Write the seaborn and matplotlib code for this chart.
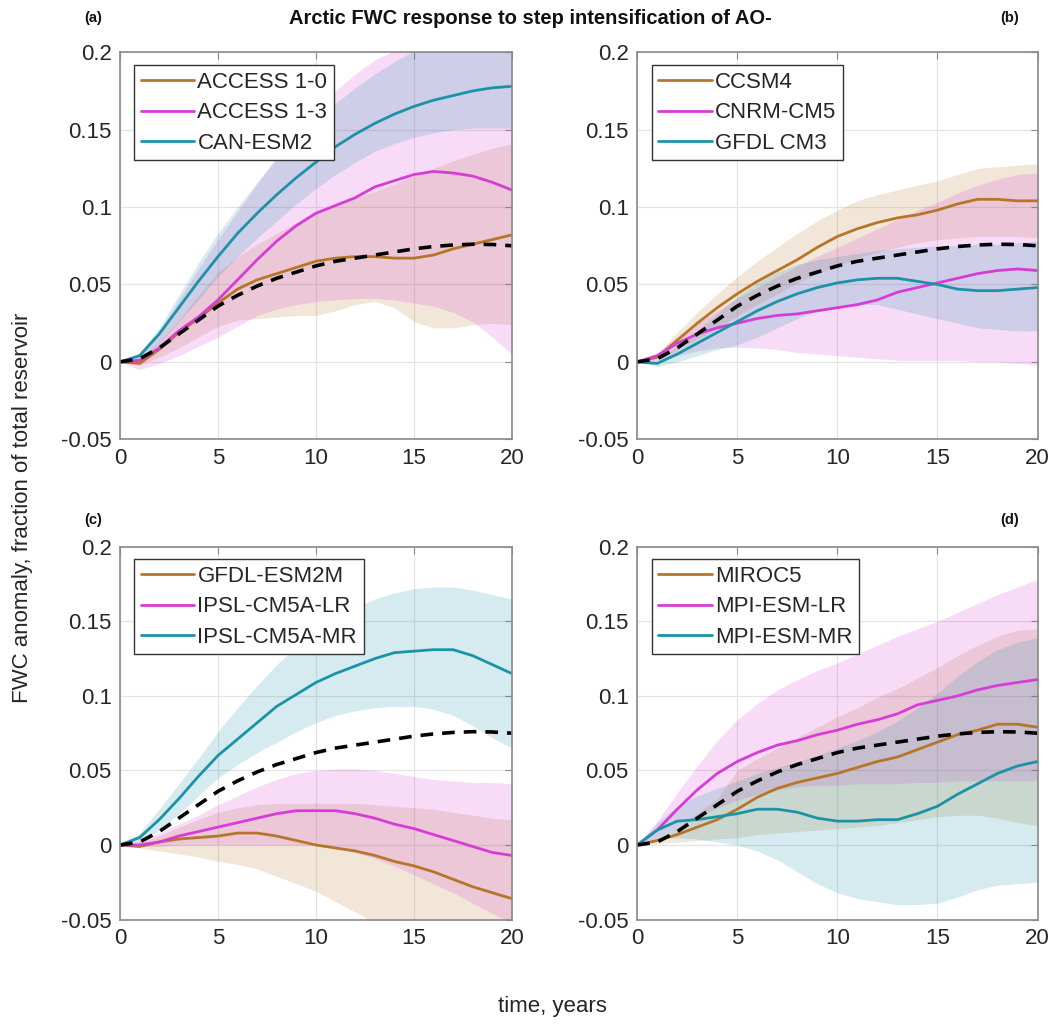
import numpy as np
import pandas as pd
import matplotlib
matplotlib.use("Agg")
import matplotlib.pyplot as plt
import seaborn as sns

sns.set_style("white")
plt.rcParams['font.family'] = ['Liberation Sans', 'DejaVu Sans']

years = list(range(21))

# multi-model mean (dashed black, same in every panel)
mean_all = [0, 0.002, 0.009, 0.018, 0.027, 0.036, 0.043, 0.049, 0.054, 0.058, 0.062,
            0.065, 0.067, 0.069, 0.071, 0.073, 0.0745, 0.0755, 0.076, 0.0758, 0.075]

# (a)
acc10 = [0, -0.001, 0.008, 0.019, 0.028, 0.038, 0.047, 0.053, 0.057, 0.061, 0.065,
         0.067, 0.068, 0.068, 0.067, 0.067, 0.069, 0.073, 0.076, 0.079, 0.082]
acc10_lo = [0, -0.002, 0.003, 0.009, 0.016, 0.023, 0.027, 0.028, 0.029, 0.030, 0.030,
            0.033, 0.037, 0.039, 0.035, 0.026, 0.022, 0.022, 0.024, 0.025, 0.024]
acc10_hi = [0, 0.002, 0.013, 0.027, 0.043, 0.058, 0.068, 0.076, 0.083, 0.090, 0.097,
            0.102, 0.106, 0.110, 0.115, 0.120, 0.125, 0.130, 0.134, 0.138, 0.141]
acc13 = [0, 0.001, 0.009, 0.020, 0.029, 0.040, 0.053, 0.066, 0.078, 0.088, 0.096,
         0.101, 0.106, 0.113, 0.117, 0.121, 0.123, 0.122, 0.120, 0.116, 0.111]
acc13_lo = [0, -0.005, -0.001, 0.004, 0.010, 0.016, 0.023, 0.030, 0.034, 0.037, 0.039,
            0.040, 0.041, 0.041, 0.040, 0.038, 0.036, 0.032, 0.026, 0.016, 0.005]
acc13_hi = [0, 0.005, 0.020, 0.040, 0.060, 0.079, 0.097, 0.115, 0.133, 0.149, 0.163,
            0.175, 0.186, 0.195, 0.201, 0.206, 0.210, 0.213, 0.215, 0.216, 0.216]
canesm = [0, 0.004, 0.018, 0.035, 0.052, 0.068, 0.083, 0.096, 0.108, 0.119, 0.129,
          0.139, 0.147, 0.154, 0.160, 0.165, 0.169, 0.172, 0.175, 0.177, 0.178]
canesm_lo = [0, 0.001, 0.012, 0.026, 0.040, 0.055, 0.068, 0.080, 0.091, 0.102, 0.112,
             0.121, 0.129, 0.136, 0.141, 0.145, 0.148, 0.150, 0.151, 0.151, 0.151]
canesm_hi = [0, 0.006, 0.022, 0.043, 0.064, 0.083, 0.100, 0.116, 0.131, 0.144, 0.156,
             0.167, 0.177, 0.186, 0.194, 0.201, 0.207, 0.211, 0.214, 0.216, 0.218]

# (b)
ccsm4 = [0, 0.003, 0.014, 0.025, 0.035, 0.044, 0.052, 0.059, 0.066, 0.074, 0.081,
         0.086, 0.090, 0.093, 0.095, 0.098, 0.102, 0.105, 0.105, 0.104, 0.104]
ccsm4_lo = [0, 0.001, 0.008, 0.015, 0.022, 0.030, 0.037, 0.044, 0.051, 0.057, 0.062,
            0.067, 0.071, 0.074, 0.077, 0.079, 0.080, 0.081, 0.081, 0.081, 0.080]
ccsm4_hi = [0, 0.005, 0.019, 0.032, 0.044, 0.055, 0.065, 0.074, 0.083, 0.091, 0.098,
            0.104, 0.108, 0.111, 0.114, 0.117, 0.121, 0.125, 0.126, 0.127, 0.128]
cnrm = [0, 0.004, 0.012, 0.018, 0.022, 0.025, 0.028, 0.030, 0.031, 0.033, 0.035,
        0.037, 0.040, 0.045, 0.048, 0.051, 0.054, 0.057, 0.059, 0.060, 0.059]
cnrm_lo = [0, 0.001, 0.004, 0.007, 0.009, 0.0095, 0.009, 0.008, 0.006, 0.005, 0.004,
           0.003, 0.002, 0.001, 0.001, 0.001, 0.001, 0.0, 0.0, -0.001, -0.002]
cnrm_hi = [0, 0.006, 0.016, 0.025, 0.033, 0.041, 0.048, 0.055, 0.062, 0.068, 0.074,
           0.080, 0.086, 0.092, 0.098, 0.103, 0.109, 0.114, 0.118, 0.121, 0.122]
gfdlcm3 = [0, -0.001, 0.005, 0.012, 0.019, 0.026, 0.033, 0.039, 0.044, 0.048, 0.051,
           0.053, 0.054, 0.054, 0.052, 0.050, 0.047, 0.046, 0.046, 0.047, 0.048]
gfdlcm3_lo = [0, -0.003, 0.0, 0.004, 0.008, 0.011, 0.016, 0.022, 0.028, 0.033, 0.036,
              0.037, 0.037, 0.034, 0.031, 0.028, 0.025, 0.022, 0.021, 0.020, 0.020]
gfdlcm3_hi = [0, 0.001, 0.010, 0.020, 0.031, 0.042, 0.051, 0.058, 0.063, 0.066, 0.068,
              0.070, 0.072, 0.073, 0.074, 0.075, 0.075, 0.076, 0.076, 0.077, 0.078]

# (c)
esm2m = [0, -0.001, 0.002, 0.004, 0.005, 0.006, 0.008, 0.008, 0.006, 0.003, 0.0,
         -0.002, -0.004, -0.007, -0.011, -0.014, -0.018, -0.023, -0.028, -0.032, -0.036]
esm2m_lo = [0, -0.002, -0.004, -0.006, -0.008, -0.011, -0.013, -0.016, -0.021, -0.026, -0.031,
            -0.038, -0.045, -0.052, -0.058, -0.064, -0.070, -0.075, -0.080, -0.085, -0.090]
esm2m_hi = [0, 0.002, 0.006, 0.012, 0.017, 0.022, 0.025, 0.027, 0.028, 0.028, 0.028,
            0.028, 0.028, 0.027, 0.026, 0.025, 0.024, 0.022, 0.020, 0.018, 0.017]
ipsl_lr = [0, 0.0, 0.002, 0.006, 0.009, 0.012, 0.015, 0.018, 0.021, 0.023, 0.023,
           0.023, 0.021, 0.018, 0.014, 0.011, 0.007, 0.003, -0.001, -0.005, -0.007]
ipsl_lr_lo = [0, -0.001, -0.001, 0.0, 0.0, 0.0, 0.0, 0.0, 0.0, 0.0, 0.0,
              -0.002, -0.005, -0.009, -0.014, -0.020, -0.026, -0.032, -0.039, -0.046, -0.052]
ipsl_lr_hi = [0, 0.003, 0.008, 0.014, 0.020, 0.027, 0.033, 0.039, 0.044, 0.048, 0.050,
              0.051, 0.051, 0.050, 0.048, 0.046, 0.044, 0.043, 0.042, 0.042, 0.041]
ipsl_mr = [0, 0.005, 0.017, 0.031, 0.046, 0.060, 0.071, 0.082, 0.093, 0.101, 0.109,
           0.115, 0.120, 0.125, 0.129, 0.130, 0.131, 0.131, 0.127, 0.121, 0.115]
ipsl_mr_lo = [0, 0.002, 0.010, 0.021, 0.033, 0.045, 0.054, 0.062, 0.069, 0.076, 0.082,
              0.087, 0.090, 0.092, 0.093, 0.093, 0.091, 0.087, 0.080, 0.072, 0.065]
ipsl_mr_hi = [0, 0.008, 0.024, 0.041, 0.058, 0.076, 0.092, 0.107, 0.121, 0.133, 0.143,
              0.152, 0.159, 0.165, 0.169, 0.172, 0.173, 0.173, 0.171, 0.168, 0.165]

# (d)
miroc5 = [0, 0.003, 0.007, 0.012, 0.017, 0.024, 0.032, 0.038, 0.042, 0.045, 0.048,
          0.052, 0.056, 0.059, 0.064, 0.069, 0.074, 0.077, 0.081, 0.081, 0.079]
miroc5_lo = [0, 0.001, 0.002, 0.003, 0.004, 0.005, 0.007, 0.008, 0.009, 0.010, 0.011,
             0.012, 0.013, 0.015, 0.017, 0.019, 0.020, 0.020, 0.018, 0.015, 0.013]
miroc5_hi = [0, 0.005, 0.012, 0.021, 0.031, 0.050, 0.058, 0.065, 0.072, 0.079, 0.086,
             0.092, 0.099, 0.105, 0.112, 0.119, 0.127, 0.134, 0.140, 0.144, 0.145]
mpi_lr = [0, 0.010, 0.024, 0.037, 0.048, 0.056, 0.062, 0.067, 0.070, 0.074, 0.077,
          0.081, 0.084, 0.088, 0.094, 0.097, 0.100, 0.104, 0.107, 0.109, 0.111]
mpi_lr_lo = [0, 0.005, 0.012, 0.019, 0.025, 0.030, 0.034, 0.037, 0.039, 0.040, 0.040,
             0.041, 0.041, 0.041, 0.042, 0.042, 0.043, 0.043, 0.043, 0.043, 0.043]
mpi_lr_hi = [0, 0.016, 0.035, 0.053, 0.070, 0.084, 0.095, 0.104, 0.111, 0.117, 0.122,
             0.128, 0.134, 0.140, 0.145, 0.150, 0.156, 0.162, 0.168, 0.173, 0.178]
mpi_mr = [0, 0.010, 0.016, 0.017, 0.019, 0.021, 0.024, 0.024, 0.022, 0.018, 0.016,
          0.016, 0.017, 0.017, 0.021, 0.026, 0.034, 0.041, 0.048, 0.053, 0.056]
mpi_mr_lo = [0, 0.004, 0.005, 0.004, 0.002, 0.0, -0.004, -0.010, -0.018, -0.026, -0.032,
             -0.036, -0.038, -0.040, -0.040, -0.039, -0.035, -0.030, -0.027, -0.026, -0.025]
mpi_mr_hi = [0, 0.015, 0.026, 0.033, 0.038, 0.043, 0.048, 0.052, 0.056, 0.060, 0.065,
             0.070, 0.076, 0.083, 0.092, 0.102, 0.113, 0.123, 0.131, 0.136, 0.139]

BROWN = '#b5762a'
MAGENTA = '#d63cd6'
TEAL = '#1b93a7'
colors = [BROWN, MAGENTA, TEAL]

panels = [
    ('(a)', [('ACCESS 1-0', acc10, acc10_lo, acc10_hi),
             ('ACCESS 1-3', acc13, acc13_lo, acc13_hi),
             ('CAN-ESM2', canesm, canesm_lo, canesm_hi)]),
    ('(b)', [('CCSM4', ccsm4, ccsm4_lo, ccsm4_hi),
             ('CNRM-CM5', cnrm, cnrm_lo, cnrm_hi),
             ('GFDL CM3', gfdlcm3, gfdlcm3_lo, gfdlcm3_hi)]),
    ('(c)', [('GFDL-ESM2M', esm2m, esm2m_lo, esm2m_hi),
             ('IPSL-CM5A-LR', ipsl_lr, ipsl_lr_lo, ipsl_lr_hi),
             ('IPSL-CM5A-MR', ipsl_mr, ipsl_mr_lo, ipsl_mr_hi)]),
    ('(d)', [('MIROC5', miroc5, miroc5_lo, miroc5_hi),
             ('MPI-ESM-LR', mpi_lr, mpi_lr_lo, mpi_lr_hi),
             ('MPI-ESM-MR', mpi_mr, mpi_mr_lo, mpi_mr_hi)]),
]

# axes boxes in figure fractions
boxes = [[0.113, 0.571, 0.369, 0.378],
         [0.600, 0.571, 0.377, 0.378],
         [0.113, 0.102, 0.369, 0.364],
         [0.600, 0.102, 0.377, 0.364]]
label_xy = [(0.088, 0.982), (0.951, 0.982), (0.088, 0.492), (0.951, 0.492)]

yticks = [-0.05, 0, 0.05, 0.1, 0.15, 0.2]
ytick_labels = ['-0.05', '0', '0.05', '0.1', '0.15', '0.2']
xticks = [0, 5, 10, 15, 20]

fig = plt.figure(figsize=(10.62, 10.24), dpi=100)

for (tag, series), box, lxy in zip(panels, boxes, label_xy):
    ax = fig.add_axes(box)
    for (name, mid, lo, hi), c in zip(series, colors):
        ax.fill_between(years, lo, hi, color=c, alpha=0.18, lw=0)
    for (name, mid, lo, hi), c in zip(series, colors):
        sns.lineplot(x=years, y=mid, color=c, lw=2.0, ax=ax, label=name)
    sns.lineplot(x=years, y=mean_all, color='black', lw=2.6, ax=ax,
                 linestyle=(0, (3.5, 2.5)), label='_nolegend_')
    ax.set_xlim(0, 20)
    ax.set_ylim(-0.05, 0.2)
    ax.set_xticks(xticks)
    ax.set_xticklabels([str(t) for t in xticks])
    ax.set_yticks(yticks)
    ax.set_yticklabels(ytick_labels)
    ax.grid(True, color='#e3e3e3', lw=0.9)
    ax.set_axisbelow(True)
    for sp in ax.spines.values():
        sp.set_color('#8a8a8a')
        sp.set_linewidth(1.2)
    ax.tick_params(direction='in', length=5, width=0.8, color='#8a8a8a',
                   labelsize=16, labelcolor='#262626', pad=6,
                   top=True, right=True)
    leg = ax.legend(loc='upper left', bbox_to_anchor=(0.036, 0.966), borderaxespad=0,
                    fontsize=16, frameon=True, fancybox=False, framealpha=1,
                    handlelength=2.4, handletextpad=0.15, labelspacing=0.42,
                    borderpad=0.3)
    leg.get_frame().set_edgecolor('#333333')
    leg.get_frame().set_linewidth(1.0)
    ax.set_xlabel('')
    ax.set_ylabel('')
    fig.text(lxy[0], lxy[1], tag, fontsize=10.5, fontweight='bold',
             ha='center', va='center', color='#111111')

fig.text(0.499, 0.982, 'Arctic FWC response to step intensification of AO-',
         fontsize=14.5, fontweight='bold', ha='center', va='center', color='#111111')
fig.text(0.021, 0.504, 'FWC anomaly, fraction of total reservoir', rotation=90,
         fontsize=16, ha='center', va='center', color='#262626')
fig.text(0.52, 0.017, 'time, years', fontsize=16, ha='center', va='center',
         color='#262626')

fig.savefig('out.png', dpi=100, facecolor='white')
